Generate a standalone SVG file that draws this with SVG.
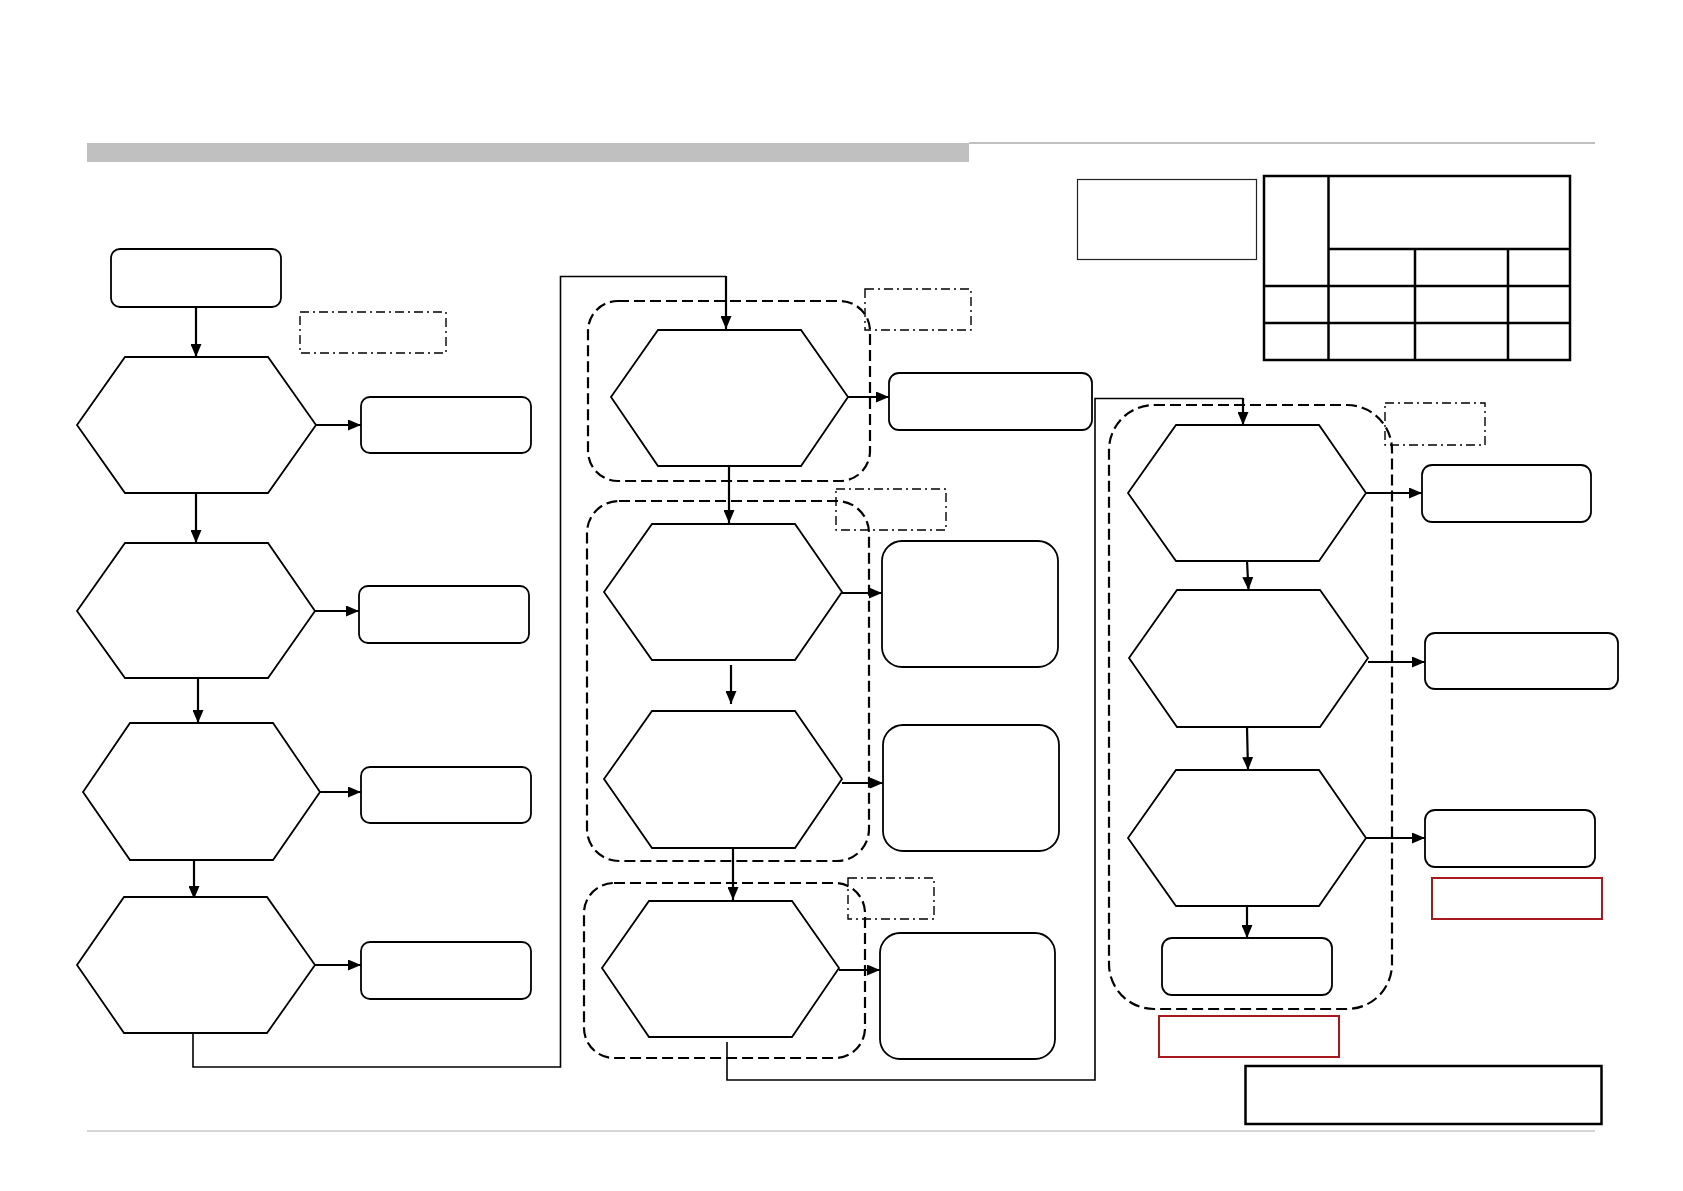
<svg xmlns="http://www.w3.org/2000/svg" width="1683" height="1191" viewBox="0 0 1683 1191">
<defs>
<marker id="ah" viewBox="0 0 13 11" refX="13" refY="5.5" markerWidth="13" markerHeight="11" orient="auto" markerUnits="userSpaceOnUse"><path d="M0,0 L13,5.5 L0,11 z" fill="#000"/></marker>
<style>
.hex{fill:#fff;stroke:#000;stroke-width:1.8}
.box{fill:#fff;stroke:#000;stroke-width:1.8}
.grp{fill:none;stroke:#000;stroke-width:2.2;stroke-dasharray:11 5}
.dd{fill:none;stroke:#000;stroke-width:1.4;stroke-dasharray:9 4 2 4}
.red{fill:none;stroke:#a8181c;stroke-width:2}
.ar{fill:none;stroke:#000;stroke-width:2.2;marker-end:url(#ah)}
.ln{fill:none;stroke:#000;stroke-width:1.6}
</style>
</defs>
<rect width="1683" height="1191" fill="#fff"/>
<g id="header">
<rect x="87" y="143" width="882" height="19" fill="#c0c0c0"/>
<line x1="969" y1="143" x2="1595" y2="143" stroke="#c0c0c0" stroke-width="2"/>
<line x1="87" y1="1131" x2="1595" y2="1131" stroke="#c8c8c8" stroke-width="1.5"/>
</g>
<g id="groups">
<rect class="grp" x="588" y="301" width="282" height="180" rx="30"/>
<rect class="grp" x="587" y="501" width="282" height="360" rx="32"/>
<rect class="grp" x="584" y="883" width="281" height="175" rx="30"/>
<rect class="grp" x="1109" y="405" width="283" height="604" rx="45"/>
</g>
<g id="notes">
<rect class="dd" x="300" y="312" width="146" height="41"/>
<rect class="dd" x="865" y="289" width="106" height="41"/>
<rect class="dd" x="836" y="489" width="110" height="41"/>
<rect class="dd" x="848" y="878" width="86" height="41"/>
<rect class="dd" x="1385" y="403" width="100" height="42"/>
<rect class="red" x="1432" y="878" width="170" height="41"/>
<rect class="red" x="1159" y="1016" width="180" height="41"/>
<rect x="1077.5" y="179.5" width="179" height="80" fill="none" stroke="#222" stroke-width="1.2"/>
<rect x="1245.5" y="1066" width="356" height="58" fill="none" stroke="#000" stroke-width="2.5"/>
</g>
<g id="table" fill="none" stroke="#000" stroke-width="2.5">
<rect x="1264" y="176" width="306" height="184"/>
<line x1="1328.5" y1="176" x2="1328.5" y2="360"/>
<line x1="1328.5" y1="249" x2="1570" y2="249"/>
<line x1="1264" y1="286" x2="1570" y2="286"/>
<line x1="1264" y1="323" x2="1570" y2="323"/>
<line x1="1415" y1="249" x2="1415" y2="360"/>
<line x1="1508" y1="249" x2="1508" y2="360"/>
</g>
<g id="connectors">
<path class="ar" d="M196,307 V357"/>
<path class="ar" d="M316,425 H361"/>
<path class="ar" d="M196,493 V543"/>
<path class="ar" d="M315,611 H359"/>
<path class="ar" d="M198,678 V723"/>
<path class="ar" d="M320,792 H361"/>
<path class="ar" d="M194,860 V899"/>
<path class="ar" d="M315,965 H361"/>
<path class="ln" d="M193,1033 V1067 H560.5 V276.5 H726"/>
<path class="ar" d="M726,276 V329"/>
<path class="ar" d="M848,397 H889"/>
<path class="ar" d="M729,466 V523"/>
<path class="ar" d="M842,593 H882"/>
<path class="ar" d="M731,665 V704"/>
<path class="ar" d="M842,783 H883"/>
<path class="ar" d="M733,848 V900"/>
<path class="ar" d="M839,970 H880"/>
<path class="ln" d="M727,1042 V1080 H1095 V398.5 H1243"/>
<path class="ar" d="M1243,398 V425"/>
<path class="ar" d="M1366,493 H1422"/>
<path class="ar" d="M1247,561 L1248.5,590"/>
<path class="ar" d="M1368,662 H1425"/>
<path class="ar" d="M1247,727 L1248,770"/>
<path class="ar" d="M1366,838 H1425"/>
<path class="ar" d="M1247,906 V938"/>
</g>
<g id="start"><rect class="box" x="111" y="249" width="170" height="58" rx="9"/></g>
<g id="h1"><polygon class="hex" points="77,425 125,357 268,357 316,425 268,493 125,493"/></g>
<g id="h2"><polygon class="hex" points="77,611 125,543 268,543 315,611 268,678 125,678"/></g>
<g id="h3"><polygon class="hex" points="83,792 130,723 273,723 320,792 273,860 130,860"/></g>
<g id="h4"><polygon class="hex" points="77,965 124,897 267,897 315,965 267,1033 124,1033"/></g>
<g id="b1"><rect class="box" x="361" y="397" width="170" height="56" rx="9"/></g>
<g id="b2"><rect class="box" x="359" y="586" width="170" height="57" rx="9"/></g>
<g id="b3"><rect class="box" x="361" y="767" width="170" height="56" rx="9"/></g>
<g id="b4"><rect class="box" x="361" y="942" width="170" height="57" rx="9"/></g>
<g id="m1"><polygon class="hex" points="611,397 658,330 801,330 848,397 801,466 658,466"/></g>
<g id="m2"><polygon class="hex" points="604,592 652,524 795,524 842,592 795,660 652,660"/></g>
<g id="m3"><polygon class="hex" points="604,779 652,711 795,711 842,779 795,848 652,848"/></g>
<g id="m4"><polygon class="hex" points="602,968 649,901 792,901 839,968 792,1037 649,1037"/></g>
<g id="m1r"><rect class="box" x="889" y="373" width="203" height="57" rx="10"/></g>
<g id="m2r"><rect class="box" x="882" y="541" width="176" height="126" rx="20"/></g>
<g id="m3r"><rect class="box" x="883" y="725" width="176" height="126" rx="20"/></g>
<g id="m4r"><rect class="box" x="880" y="933" width="175" height="126" rx="20"/></g>
<g id="r1"><polygon class="hex" points="1128,493 1176,425 1319,425 1366,493 1319,561 1176,561"/></g>
<g id="r2"><polygon class="hex" points="1129,658 1177,590 1320,590 1368,658 1320,727 1177,727"/></g>
<g id="r3"><polygon class="hex" points="1128,838 1176,770 1319,770 1366,838 1319,906 1176,906"/></g>
<g id="r1r"><rect class="box" x="1422" y="465" width="169" height="57" rx="10"/></g>
<g id="r2r"><rect class="box" x="1425" y="633" width="193" height="56" rx="10"/></g>
<g id="r3r"><rect class="box" x="1425" y="810" width="170" height="57" rx="10"/></g>
<g id="r5"><rect class="box" x="1162" y="938" width="170" height="57" rx="10"/></g>
</svg>
